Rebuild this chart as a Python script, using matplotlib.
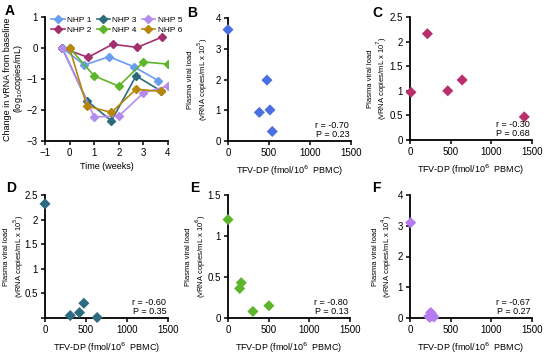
import matplotlib
matplotlib.use('Agg')
import matplotlib.pyplot as plt

plt.rcParams['font.family'] = ['Liberation Sans', 'DejaVu Sans']
plt.rcParams['font.size'] = 6.5

# Panel A: change in vRNA from baseline
nhp_names = ['NHP 1', 'NHP 2', 'NHP 3', 'NHP 4', 'NHP 5', 'NHP 6']
nhp_colors = ['#6A9CF0', '#A3306E', '#2D6B7C', '#5DB52C', '#B48CF0', '#B8860B']
nhp_weeks = [
    [-0.3, 0.6, 1.6, 2.6, 3.6],
    [-0.3, 0.75, 1.75, 2.75, 3.75],
    [-0.3, 0.7, 1.7, 2.7, 3.7],
    [0.0, 1.0, 2.0, 3.0, 4.0],
    [-0.3, 1.0, 2.0, 3.0, 4.0],
    [0.0, 0.7, 1.7, 2.7, 3.7],
]
nhp_change = [
    [0.0, -0.55, -0.28, -0.6, -1.05],
    [0.0, -0.3, 0.12, 0.02, 0.35],
    [0.0, -1.7, -2.35, -0.9, -1.38],
    [0.0, -0.9, -1.23, -0.45, -0.52],
    [0.0, -2.22, -2.2, -1.45, -1.22],
    [0.0, -1.87, -2.08, -1.33, -1.4],
]

# Panels B-F: viral load vs TFV-DP
panel_letters = ['B', 'C', 'D', 'E', 'F']
panel_colors = ['#4A6FE3', '#B8306B', '#2E6B80', '#5DB52C', '#B57BF0']
panel_exponents = ['5', '7', '5', '6', '4']
tfv_dp = [
    [0, 475, 382, 512, 540],
    [12, 214, 464, 641, 1405],
    [0, 308, 421, 474, 636],
    [0, 163, 143, 306, 503],
    [8, 255, 230, 275, 295, 245],
]
viral_load = [
    [3.62, 1.98, 0.93, 1.01, 0.31],
    [0.97, 2.16, 1.0, 1.22, 0.47],
    [2.32, 0.05, 0.11, 0.3, 0.01],
    [1.2, 0.43, 0.36, 0.08, 0.15],
    [3.1, 0.18, 0.05, 0.1, 0.03, 0.02],
]
r_values = ['-0.70', '-0.30', '-0.60', '-0.80', '-0.67']
p_values = ['0.23', '0.68', '0.35', '0.13', '0.27']
y_max = [4, 2.5, 2.5, 1.5, 4]
y_ticks = [[0, 1, 2, 3, 4],
           [0, 0.5, 1, 1.5, 2, 2.5],
           [0, 0.5, 1, 1.5, 2, 2.5],
           [0, 0.5, 1, 1.5],
           [0, 1, 2, 3, 4]]
y_ticklabels = [['0', '1', '2', '3', '4'],
                ['0', '0.5', '1', '1.5', '2', '2.5'],
                ['', '0.5', '1', '1.5', '2', '2.5'],
                ['0', '0.5', '1', '1.5'],
                ['0', '1', '2', '3', '4']]


def style_axes(ax):
    for s in ['top', 'right']:
        ax.spines[s].set_visible(False)
    for s in ['left', 'bottom']:
        ax.spines[s].set_linewidth(1.3)
    ax.tick_params(width=1.1, length=3, labelsize=7, pad=2)


fig = plt.figure(figsize=(5.5, 3.55), dpi=100)
W, H = 550.0, 355.0

# Panel A
axA = fig.add_axes([45 / W, (H - 141) / H, 123 / W, 124 / H])
for name, col, wk, ch in zip(nhp_names, nhp_colors, nhp_weeks, nhp_change):
    axA.plot(wk, ch, '-D', color=col, label=name, markersize=4.5, linewidth=1.2)
axA.set_xlim(-1, 4)
axA.set_ylim(-3, 1)
axA.set_xticks([-1, 0, 1, 2, 3, 4])
axA.set_yticks([-3, -2, -1, 0, 1])
axA.set_xlabel('Time (weeks)', fontsize=6.5, labelpad=3)
axA.set_ylabel('Change in vRNA from baseline\n(log$_{10}$copies/mL)', fontsize=6.5, linespacing=1.0)
axA.yaxis.set_label_coords(-0.16, 0.5)
style_axes(axA)
axA.legend(ncol=3, loc='upper left', bbox_to_anchor=(0.01, 1.05), frameon=False,
           fontsize=6, handlelength=1.6, columnspacing=0.6, handletextpad=0.3,
           labelspacing=0.25, borderpad=0.1, markerscale=0.9)
fig.text(5 / W, 1 - 11 / H, 'A', fontsize=10, fontweight='bold', va='center')

# Panels B-F
positions = [(228, 141, 123), (410, 140, 122), (45, 318, 123), (228, 318, 122), (410, 318, 122)]
letter_pos = [(187, 13), (372, 13), (6, 188), (190, 188), (372, 188)]
label_x = [-0.15, -0.17, -0.155, -0.165, -0.13]
for i in range(5):
    left, bottom, width = positions[i]
    ax = fig.add_axes([left / W, (H - bottom) / H, width / W, 123 / H])
    ax.scatter(tfv_dp[i], viral_load[i], marker='D', s=32, color=panel_colors[i],
               edgecolors='none', clip_on=False, zorder=3)
    ax.set_xlim(0, 1500)
    ax.set_ylim(0, y_max[i])
    ax.set_xticks([0, 500, 1000, 1500])
    ax.set_yticks(y_ticks[i])
    ax.set_yticklabels(y_ticklabels[i])
    ax.set_xlabel('TFV-DP (fmol/10$^6$  PBMC)', fontsize=6.5, labelpad=4)
    ax.set_ylabel('Plasma viral load\n(vRNA copies/mL x 10$^{%s}$)' % panel_exponents[i],
                  fontsize=5.5, linespacing=1.1)
    ax.yaxis.set_label_coords(label_x[i], 0.5)
    style_axes(ax)
    ax.text(0.985, 0.015, 'r = %s\nP = %s' % (r_values[i], p_values[i]),
            transform=ax.transAxes, ha='right', va='bottom', fontsize=6.5, linespacing=1.0)
    lx, ly = letter_pos[i]
    fig.text(lx / W, 1 - ly / H, panel_letters[i], fontsize=10, fontweight='bold', va='center')

fig.savefig('out.png', dpi=100)
